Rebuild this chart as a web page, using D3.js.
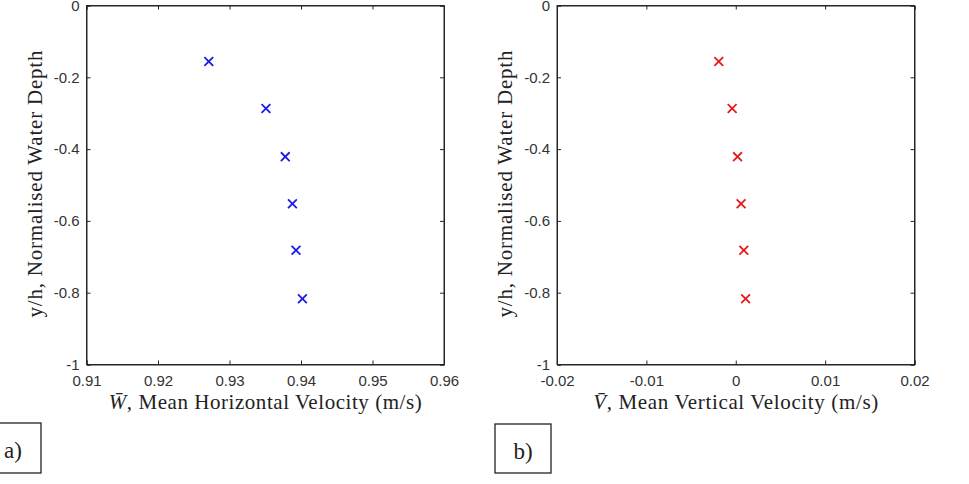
<!DOCTYPE html>
<html><head><meta charset="utf-8">
<script src="https://cdn.jsdelivr.net/npm/d3@7"></script>
<style>body{margin:0;background:#fff}svg{display:block}</style>
</head><body>
<svg id="c" width="969" height="484"></svg>
<script>
// ---- data ----
const depth = [-0.156, -0.287, -0.421, -0.552, -0.682, -0.817];
const horizVel = [0.9271, 0.9351, 0.9378, 0.9388, 0.9393, 0.9402];
const vertVel = [-0.0019, -0.0004, 0.0002, 0.0006, 0.0009, 0.0011];
const xTicksA = [0.91, 0.92, 0.93, 0.94, 0.95, 0.96];
const xTicksB = [-0.02, -0.01, 0, 0.01, 0.02];
const yTicks = [0, -0.2, -0.4, -0.6, -0.8, -1];
const yLabel = "y/h, Normalised Water Depth";

const svg = d3.select("#c");
const axisCol = "#262626";
const serif = "Liberation Serif, Times New Roman, serif";

function panel(opt) {
  const {x0, x1, y0, y1, xDomain, xTicks, xVals, color, xVar, xRest, xLen, tag, tagBox} = opt;
  const g = svg.append("g");
  const x = d3.scaleLinear().domain(xDomain).range([x0, x1]);
  const y = d3.scaleLinear().domain([-1, 0]).range([y1, y0]);
  const fmt = v => (v === 0 ? "0" : String(+v.toFixed(2)));
  const tickLen = 4;
  g.append("rect").attr("x", x0).attr("y", y0).attr("width", x1 - x0).attr("height", y1 - y0)
    .attr("fill", "none").attr("stroke", axisCol).attr("stroke-width", 1);
  g.append("g").attr("transform", `translate(0,${y1})`)
    .call(d3.axisBottom(x).tickValues(xTicks).tickFormat(fmt).tickSize(-tickLen).tickPadding(11));
  g.append("g").attr("transform", `translate(0,${y0})`)
    .call(d3.axisTop(x).tickValues(xTicks).tickFormat("").tickSize(-tickLen));
  g.append("g").attr("transform", `translate(${x0},0)`)
    .call(d3.axisLeft(y).tickValues(yTicks).tickFormat(fmt).tickSize(-tickLen).tickPadding(7));
  g.append("g").attr("transform", `translate(${x1},0)`)
    .call(d3.axisRight(y).tickValues(yTicks).tickFormat("").tickSize(-tickLen));
  g.selectAll(".domain").attr("stroke", axisCol);
  g.selectAll(".tick line").attr("stroke", axisCol);
  g.selectAll(".tick text").attr("fill", "#333").attr("font-family", "Liberation Sans, Arial, sans-serif").attr("font-size", 15);
  // markers
  const pts = xVals.map((v, i) => ({x: v, y: depth[i]}));
  const s = 4.4;
  const m = g.selectAll(".m").data(pts).enter().append("g")
    .attr("transform", d => `translate(${x(d.x)},${y(d.y)})`);
  m.append("line").attr("x1", -s).attr("y1", -s).attr("x2", s).attr("y2", s);
  m.append("line").attr("x1", -s).attr("y1", s).attr("x2", s).attr("y2", -s);
  m.selectAll("line").attr("stroke", color).attr("stroke-width", 1.8);
  // x label
  const xl = g.append("text").attr("x", (x0 + x1) / 2).attr("y", 409)
    .attr("text-anchor", "middle").attr("font-family", serif)
    .attr("font-size", 21).attr("fill", "#222")
    .attr("textLength", xLen).attr("lengthAdjust", "spacing");
  xl.append("tspan").attr("font-style", "italic").text(xVar + "\u0304");
  xl.append("tspan").text(xRest);
  // y label
  g.append("text").attr("transform", `translate(${x0 - 45},${(y0 + y1) / 2 - 1}) rotate(-90)`)
    .attr("text-anchor", "middle").attr("font-family", serif)
    .attr("font-size", 21).attr("fill", "#222")
    .attr("textLength", 267).attr("lengthAdjust", "spacing").text(yLabel);
  // tag box
  svg.append("rect").attr("x", tagBox[0]).attr("y", tagBox[1]).attr("width", tagBox[2]).attr("height", tagBox[3])
    .attr("fill", "none").attr("stroke", "#222").attr("stroke-width", 1.3);
  svg.append("text").attr("x", tagBox[0] + tagBox[2] / 2).attr("y", tagBox[1] + 35)
    .attr("text-anchor", "middle").attr("font-family", serif)
    .attr("font-size", 23).attr("fill", "#222").text(tag);
}

panel({x0: 86.5, x1: 444, y0: 5.5, y1: 364.5, xDomain: [0.91, 0.96], xTicks: xTicksA, xVals: horizVel,
  color: "#1a1ae6", xVar: "W", xRest: ", Mean Horizontal Velocity (m/s)", xLen: 313,
  tag: "a)", tagBox: [-15, 423, 56, 50]});
panel({x0: 557, x1: 914.5, y0: 5.5, y1: 364.5, xDomain: [-0.02, 0.02], xTicks: xTicksB, xVals: vertVel,
  color: "#e61a1a", xVar: "V", xRest: ", Mean Vertical Velocity (m/s)", xLen: 285,
  tag: "b)", tagBox: [495, 424, 56, 49]});
</script>
</body></html>
